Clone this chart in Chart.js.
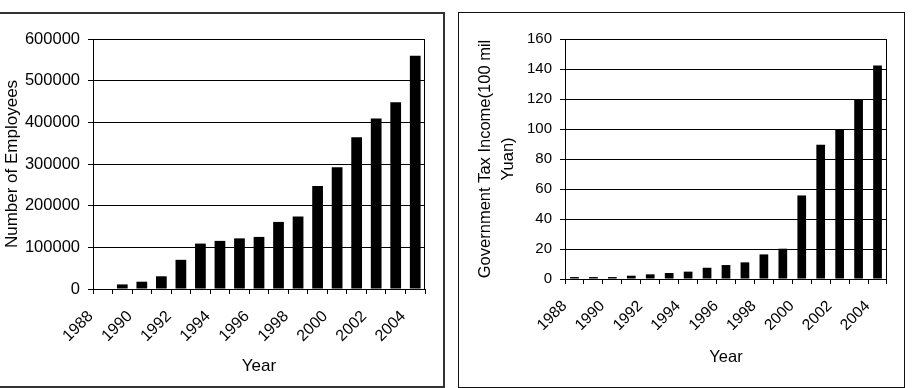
<!DOCTYPE html>
<html>
<head>
<meta charset="utf-8">
<script src="https://cdn.jsdelivr.net/npm/chart.js@4.4.0/dist/chart.umd.min.js"></script>
<style>
body { margin:0; background:#fff; width:918px; height:388px; overflow:hidden; position:relative; }
.box { position:absolute; box-sizing:border-box; background:#fff; }
#boxL { left:-2px; top:12px; width:447px; height:376px; border:2px solid #333; }
#boxR { left:458px; top:12px; width:447px; height:376px; border:1px solid #111; }
canvas { display:block; }
</style>
</head>
<body>
<div class="box" id="boxL"><canvas id="chartL" width="443" height="372"></canvas></div>
<div class="box" id="boxR"><canvas id="chartR" width="445" height="374"></canvas></div>
<script>
// values
var years = ['1988','1989','1990','1991','1992','1993','1994','1995','1996',
             '1997','1998','1999','2000','2001','2002','2003','2004'];
var employees = [0, 11000, 17500, 30500, 70000, 109000, 115500, 121500, 125000,
                 161000, 174000, 247000, 292500, 364000, 409000, 448500, 560000];
var taxIncome = [1.3, 1.3, 1.3, 2.2, 3.1, 4, 4.9, 7.5, 9.3,
                 11.1, 16.4, 20.2, 55.7, 89.5, 100, 120, 142.3];

var employeeTicks = { min: 0, max: 600000, step: 100000 };
var taxTicks = { min: 0, max: 160, step: 20 };

Chart.defaults.font.family = '"Liberation Sans", Arial, sans-serif';
Chart.defaults.color = '#000';

// outline of the plot area (top and right sides too)
var frame = {
  id: 'frame',
  afterDraw: function(chart) {
    var a = chart.chartArea, ctx = chart.ctx;
    ctx.save();
    ctx.strokeStyle = '#000';
    ctx.lineWidth = 1;
    ctx.strokeRect(Math.round(a.left) + 0.5, Math.round(a.top) + 0.5,
                   Math.round(a.right - a.left) - 1, Math.round(a.bottom - a.top));
    ctx.restore();
  }
};

function makeChart(id, values, yt, o) {
  return new Chart(document.getElementById(id), {
    type: 'bar',
    data: {
      labels: years,
      datasets: [{
        data: values,
        backgroundColor: '#000',
        borderWidth: 0,
        barPercentage: o.barPct,
        categoryPercentage: 1
      }]
    },
    options: {
      responsive: false,
      animation: false,
      devicePixelRatio: 1,
      layout: { padding: { left: 0, top: o.padTop, right: o.padRight, bottom: 0 } },
      plugins: { legend: { display: false }, tooltip: { enabled: false } },
      scales: {
        x: {
          afterFit: function(s) { s.height = o.xHeight; },
          grid: { display: true, drawOnChartArea: false, drawTicks: true, tickLength: 5, color: '#000', offset: true },
          border: { display: true, color: '#000', width: 1 },
          ticks: {
            autoSkip: false, maxRotation: 45, minRotation: 45,
            padding: o.xPad, labelOffset: o.xLabelOffset,
            font: { size: o.xFont },
            callback: function(v, i) { return i % 2 === 0 ? years[i] : ''; }
          },
          title: { display: true, text: 'Year', font: { size: o.titleFont }, padding: { top: 0, bottom: o.xTitlePad } }
        },
        y: {
          min: yt.min, max: yt.max,
          afterFit: function(s) { s.width = o.yWidth; },
          grid: { color: '#000', lineWidth: 1, tickLength: 5 },
          border: { display: true, color: '#000', width: 1 },
          ticks: {
            stepSize: yt.step, padding: 8,
            font: { size: o.yFont },
            callback: function(v) { return String(v); }
          },
          title: { display: true, text: o.yTitle, font: { size: o.titleFont, lineHeight: o.titleLine }, padding: { top: o.yTitlePad, bottom: 0 } }
        }
      }
    },
    plugins: [frame]
  });
}

makeChart('chartL', employees, employeeTicks, {
  barPct: 0.55, padTop: 25, padRight: 18, xHeight: 97, yWidth: 93,
  xPad: 13, xLabelOffset: -12, xFont: 16, yFont: 16.5, titleFont: 17, titleLine: 1.2,
  xTitlePad: 9, yTitlePad: 2,
  yTitle: 'Number of Employees'
});

makeChart('chartR', taxIncome, taxTicks, {
  barPct: 0.46, padTop: 26, padRight: 11, xHeight: 108, yWidth: 106,
  xPad: 13, xLabelOffset: -10, xFont: 15.5, yFont: 15, titleFont: 16.5, titleLine: 1.4,
  xTitlePad: 20, yTitlePad: 14.5,
  yTitle: ['Government Tax Income(100 mil', 'Yuan)']
});
</script>
</body>
</html>
